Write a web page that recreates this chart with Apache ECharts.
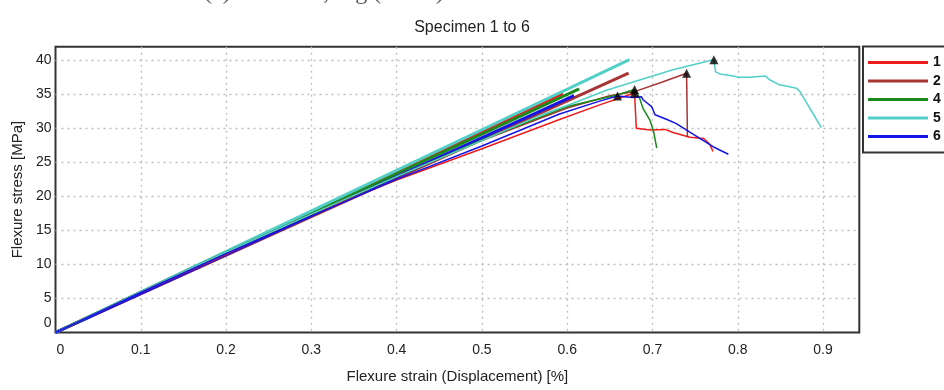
<!DOCTYPE html>
<html>
<head>
<meta charset="utf-8">
<script src="https://cdn.jsdelivr.net/npm/echarts@6/dist/echarts.min.js"></script>
<style>html,body{margin:0;padding:0;background:#fff}#c{width:944px;height:390px}</style>
</head>
<body>
<div id="c"></div>
<script>
// ---- data ----
const specimenNames = ['1', '2', '4', '5', '6'];
const specimenColors = ['#ee1c1c', '#a83434', '#1a8a1a', '#52d0c8', '#1414e6'];

// linear fit lines: start at origin, end point
const fitStartX = [0, 0, 0, 0, 0];
const fitStartY = [0, 0, 0, 0, 0];
const fitEndX = [0.595, 0.672, 0.614, 0.673, 0.608];
const fitEndY = [35.1, 38.1, 35.8, 40.1, 34.8];

// measured curves
const strain1 = [0, 0.1, 0.2, 0.287, 0.4, 0.5, 0.591, 0.638, 0.679, 0.681, 0.697, 0.715, 0.724, 0.744, 0.760, 0.767, 0.771];
const stress1 = [0, 5.9, 11.5, 16.7, 22.4, 27.0, 31.3, 33.45, 35.2, 30.0, 29.75, 29.85, 29.4, 28.7, 28.5, 27.7, 26.6];

const strain2 = [0, 0.1, 0.2, 0.3, 0.4, 0.5, 0.6, 0.65, 0.679, 0.71, 0.740, 0.741];
const stress2 = [0, 6.0, 11.8, 17.4, 22.9, 28.2, 33.0, 34.8, 35.4, 36.75, 38.1, 28.7];

const strain4 = [0, 0.1, 0.2, 0.3, 0.4, 0.5, 0.6, 0.658, 0.679, 0.685, 0.689, 0.697, 0.701, 0.705];
const stress4 = [0, 6.0, 11.8, 17.4, 22.9, 28.3, 33.2, 34.9, 35.7, 34.4, 32.9, 31.2, 29.7, 27.1];

const strain5 = [0, 0.1, 0.2, 0.3, 0.4, 0.5, 0.568, 0.607, 0.646, 0.685, 0.724, 0.756, 0.772, 0.774, 0.779, 0.795, 0.801, 0.814, 0.832, 0.838, 0.849, 0.869, 0.873, 0.881, 0.889, 0.898];
const stress5 = [0, 6.0, 11.8, 17.4, 22.9, 28.2, 31.9, 33.7, 35.6, 37.1, 38.6, 39.6, 40.1, 38.3, 38.0, 37.7, 37.5, 37.5, 37.7, 37.1, 36.4, 35.9, 35.4, 33.7, 32.0, 30.1];

const strain6 = [0, 0.1, 0.2, 0.3, 0.4, 0.5, 0.591, 0.638, 0.659, 0.677, 0.687, 0.689, 0.699, 0.703, 0.717, 0.728, 0.740, 0.756, 0.771, 0.789];
const stress6 = [0, 5.9, 11.6, 17.1, 22.5, 27.4, 32.1, 34.0, 34.75, 34.55, 34.65, 34.2, 33.2, 32.0, 31.3, 30.7, 29.75, 28.5, 27.3, 26.2];

// peak markers (triangles)
const peakX = [0.679, 0.740, 0.679, 0.772, 0.659];
const peakY = [35.2, 38.1, 35.7, 40.1, 34.75];

const xTicks = [0, 0.1, 0.2, 0.3, 0.4, 0.5, 0.6, 0.7, 0.8, 0.9];
const yTicks = [0, 5, 10, 15, 20, 25, 30, 35, 40];

const titleText = 'Specimen 1 to 6';
const topLineText = '(c) Concrete, Fig (90/90) Flexure stress-strain curve';
const xName = 'Flexure strain (Displacement) [%]';
const yName = 'Flexure stress [MPa]';

// ---- build ----
const strains = [strain1, strain2, strain4, strain5, strain6];
const stresses = [stress1, stress2, stress4, stress5, stress6];
const zip = (a, b) => a.map((v, i) => [v, b[i]]);

const series = [];
specimenNames.forEach((n, i) => {
  series.push({
    name: n, type: 'line', symbol: 'none', z: 2,
    data: [[fitStartX[i], fitStartY[i]], [fitEndX[i], fitEndY[i]]],
    lineStyle: { color: specimenColors[i], width: 3 },
    itemStyle: { color: specimenColors[i] },
    animation: false
  });
});
specimenNames.forEach((n, i) => {
  series.push({
    name: n, type: 'line', symbol: 'none', z: 3,
    data: zip(strains[i], stresses[i]),
    lineStyle: { color: specimenColors[i], width: 1.5 },
    itemStyle: { color: specimenColors[i] },
    animation: false
  });
});
series.push({
  name: 'peaks', type: 'scatter', symbol: 'triangle', symbolSize: 9, z: 5,
  itemStyle: { color: '#000' },
  data: zip(peakX, peakY), animation: false
});

const near = (v, arr) => arr.some(t => Math.abs(t - v) < 1e-6);

const chart = echarts.init(document.getElementById('c'), null, { renderer: 'canvas' });
chart.setOption({
  animation: false,
  backgroundColor: '#fff',
  title: [
    { text: titleText, left: 'center', top: 15,
      textStyle: { fontFamily: 'Liberation Sans, Arial', fontSize: 16, fontWeight: 'normal', color: '#222' } }
  ],
  graphic: [
    { type: 'text', left: 204, top: -19, z: 10,
      style: { text: topLineText, font: '24px "Liberation Serif", serif', fill: '#555' } }
  ],
  legend: {
    data: specimenNames,
    icon: 'rect',
    orient: 'vertical', left: 863, top: 46.5,
    itemWidth: 60, itemHeight: 3, itemGap: 4.5,
    padding: [9, 30, 9, 5],
    borderColor: '#333', borderWidth: 2, backgroundColor: '#fff',
    textStyle: { fontFamily: 'Liberation Sans, Arial', fontSize: 14, lineHeight: 14, height: 14, fontWeight: 'bold', color: '#111' }
  },
  grid: { left: 55.5, right: 84.7, top: 46.7, bottom: 57.5, show: true, borderColor: '#333', borderWidth: 2, backgroundColor: 'transparent', containLabel: false },
  xAxis: {
    type: 'value', min: 0, max: 0.9425, interval: 0.1,
    name: xName, nameLocation: 'middle', nameGap: 37,
    nameTextStyle: { fontFamily: 'Liberation Sans, Arial', fontSize: 15, color: '#222' },
    axisLine: { show: false }, axisTick: { show: false },
    axisLabel: {
      margin: 11, color: '#222', fontFamily: 'Liberation Sans, Arial', fontSize: 14,
      formatter: v => near(v, xTicks) ? (Math.abs(v) < 1e-9 ? '{z|0}' : String(+v.toFixed(1))) : '',
      rich: { z: { padding: [0, 0, 0, 10], fontSize: 14, color: '#222', fontFamily: 'Liberation Sans, Arial' } }
    },
    splitLine: { show: true, showMinLine: false, showMaxLine: false, lineStyle: { color: '#bdbdbd', width: 1.3, type: [2, 4] } }
  },
  yAxis: {
    type: 'value', min: 0, max: 42, interval: 5,
    name: yName, nameLocation: 'middle', nameGap: 29, nameRotate: 90,
    nameTextStyle: { fontFamily: 'Liberation Sans, Arial', fontSize: 15, color: '#222' },
    axisLine: { show: false }, axisTick: { show: false },
    axisLabel: {
      margin: 4, color: '#222', fontFamily: 'Liberation Sans, Arial', fontSize: 14,
      formatter: v => near(v, yTicks) ? (v === 0 ? '{z|0}' : String(v)) : '',
      rich: { z: { padding: [0, 0, 18, 0], fontSize: 14, color: '#222', fontFamily: 'Liberation Sans, Arial' } }
    },
    splitLine: { show: true, showMinLine: false, showMaxLine: false, lineStyle: { color: '#bdbdbd', width: 1.3, type: [2, 4] } }
  },
  series: series
});
</script>
</body>
</html>
